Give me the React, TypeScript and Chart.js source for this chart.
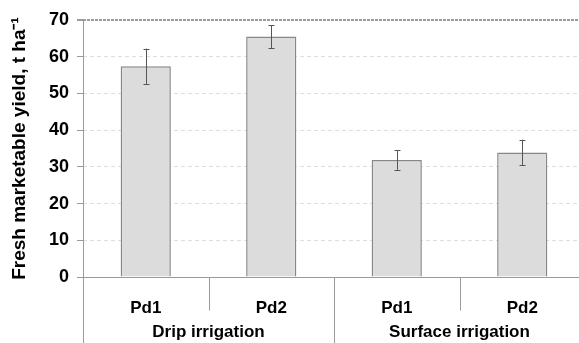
import React, { useEffect, useRef } from "react";
import { Chart, registerables } from "chart.js";

Chart.register(...registerables);

const categories = ["Pd1", "Pd2", "Pd1", "Pd2"];
const groups = ["Drip irrigation", "Surface irrigation"];
const yieldMeans = [57.4, 65.5, 31.9, 33.9];
const yieldErrors = [4.8, 3.1, 2.7, 3.5];
const yTitle = "Fresh marketable yield, t ha\u207B\u00B9";

const FONT = "'Liberation Sans', Arial, sans-serif";
const AXIS = "#9a9a9a";

const decorPlugin = {
  id: "decor",
  afterDatasetsDraw(chart: any) {
    const { ctx, chartArea, scales } = chart;
    const x = scales.x;
    const y = scales.y;
    const meta = chart.getDatasetMeta(0);
    ctx.save();
    // error bars
    ctx.strokeStyle = "#555";
    ctx.lineWidth = 1;
    meta.data.forEach((bar: any, i: number) => {
      const top = y.getPixelForValue(yieldMeans[i] + yieldErrors[i]);
      const bot = y.getPixelForValue(yieldMeans[i] - yieldErrors[i]);
      const cx = Math.round(bar.x) + 0.5;
      ctx.beginPath();
      ctx.moveTo(cx, top);
      ctx.lineTo(cx, bot);
      ctx.moveTo(cx - 3, Math.round(top) + 0.5);
      ctx.lineTo(cx + 3, Math.round(top) + 0.5);
      ctx.moveTo(cx - 3, Math.round(bot) + 0.5);
      ctx.lineTo(cx + 3, Math.round(bot) + 0.5);
      ctx.stroke();
    });
    // axes
    const H = chart.height;
    const zeroY = Math.round(y.getPixelForValue(0)) + 0.5;
    const left = Math.round(chartArea.left) + 0.5;
    ctx.strokeStyle = AXIS;
    ctx.lineWidth = 1;
    ctx.beginPath();
    ctx.moveTo(left, chartArea.top);
    ctx.lineTo(left, H);
    ctx.moveTo(left - 6, zeroY);
    ctx.lineTo(chartArea.right, zeroY);
    ctx.stroke();
    // dividers
    const step = x.getPixelForValue(1) - x.getPixelForValue(0);
    for (let i = 1; i < categories.length; i++) {
      const bx = Math.round(x.getPixelForValue(i) - step / 2) + 0.5;
      const isGroup = i % 2 === 0;
      ctx.beginPath();
      ctx.moveTo(bx, zeroY);
      ctx.lineTo(bx, isGroup ? H : zeroY + 33);
      ctx.stroke();
    }
    // group labels
    ctx.fillStyle = "#000";
    ctx.font = `bold 17px ${FONT}`;
    ctx.textAlign = "center";
    ctx.textBaseline = "alphabetic";
    groups.forEach((g, gi) => {
      const cx = (x.getPixelForValue(gi * 2) + x.getPixelForValue(gi * 2 + 1)) / 2;
      ctx.fillText(g, cx, 337);
    });
    // y title
    ctx.save();
    ctx.translate(20, (chartArea.top + chartArea.bottom) / 2);
    ctx.rotate(-Math.PI / 2);
    ctx.font = `bold 19px ${FONT}`;
    ctx.textAlign = "center";
    ctx.textBaseline = "middle";
    ctx.fillText(yTitle, 0, 0);
    ctx.restore();
    ctx.restore();
  },
};

export default function App() {
  const ref = useRef<HTMLCanvasElement | null>(null);
  useEffect(() => {
    if (!ref.current) return;
    Chart.defaults.font.family = FONT;
    Chart.defaults.color = "#000";
    const chart = new Chart(ref.current, {
      type: "bar",
      data: {
        labels: categories,
        datasets: [
          {
            data: yieldMeans,
            backgroundColor: "#dcdcdc",
            borderColor: "#878787",
            borderWidth: 1.5,
            barPercentage: 0.4,
            categoryPercentage: 1,
          },
        ],
      },
      options: {
        responsive: false,
        animation: false,
        layout: { padding: { top: 20, left: 0, right: 0, bottom: 0 } },
        plugins: { legend: { display: false }, tooltip: { enabled: false } },
        scales: {
          x: {
            grid: { display: false },
            border: { display: false },
            ticks: { font: { size: 17, weight: "bold" }, color: "#000", padding: 13, maxRotation: 0 },
            afterFit: (s: any) => {
              s.height = 66;
            },
          },
          y: {
            min: 0,
            max: 70,
            ticks: { stepSize: 10, font: { size: 18, weight: "bold" }, color: "#000", padding: 8 },
            grid: {
              color: (c: any) =>
                c.tick && c.tick.value === 0
                  ? "rgba(0,0,0,0)"
                  : c.tick && c.tick.value === 70
                  ? "#9c9c9c"
                  : "#dedede",
              lineWidth: (c: any) => (c.tick && c.tick.value === 70 ? 2 : 1),
              tickColor: AXIS,
              tickLength: 6,
            },
            border: {
              display: false,
              dash: (c: any) => (c.tick && c.tick.value === 70 ? [3, 1] : [4, 3]),
            },
            afterFit: (s: any) => {
              s.width = 83;
            },
          },
        },
      },
      plugins: [decorPlugin],
    } as any);
    return () => chart.destroy();
  }, []);
  return (
    <div style={{ position: "fixed", left: 0, top: 0, width: 579, height: 343, overflow: "hidden", background: "#fff" }}>
      <canvas ref={ref} width={585} height={343} style={{ display: "block" }} />
    </div>
  );
}
